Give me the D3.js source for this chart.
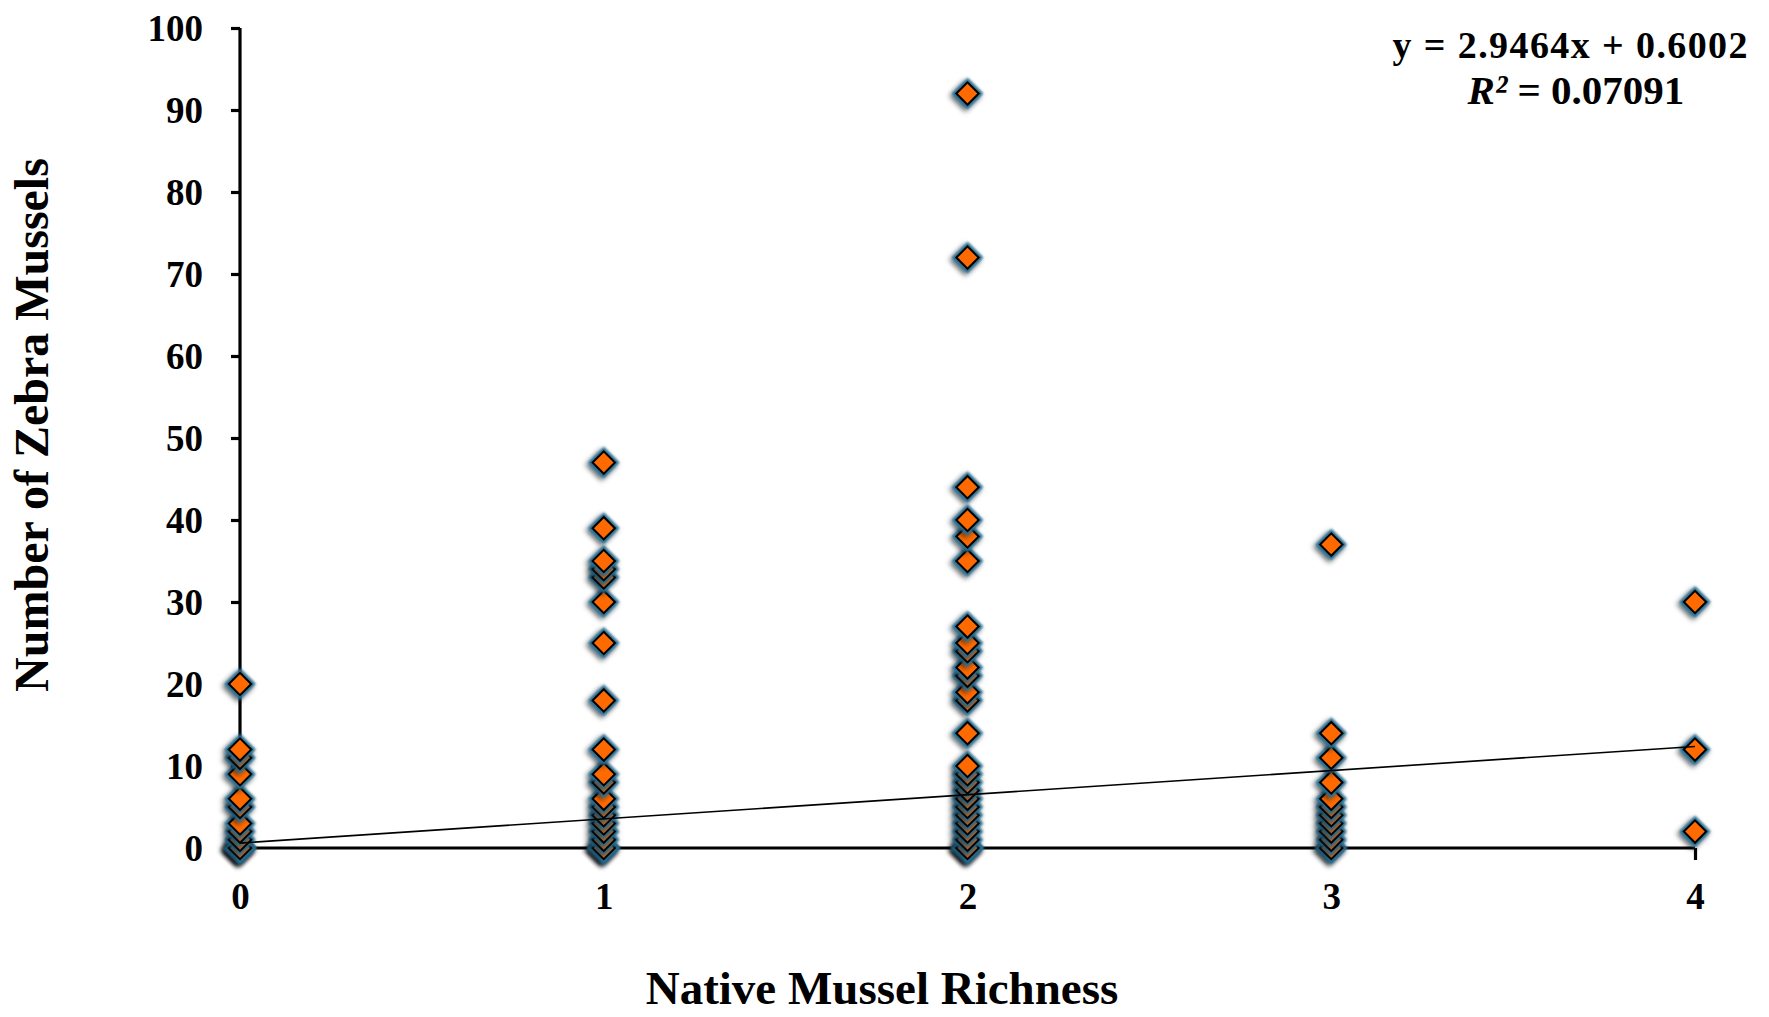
<!DOCTYPE html>
<html><head><meta charset="utf-8">
<script src="https://cdn.jsdelivr.net/npm/d3@7"></script>
<style>body{margin:0;background:#fff}svg{display:block}</style>
</head><body>
<svg id="chart" width="1769" height="1017"></svg>
<script>
// ---- data ----
const xTicks = [0, 1, 2, 3, 4];
const yTicks = [0, 10, 20, 30, 40, 50, 60, 70, 80, 90, 100];
const zebraAt0 = [0, 0, 0, 0, 0, 1, 2, 3, 5, 6, 9, 11, 12, 20];
const zebraAt1 = [0, 0, 0, 0, 1, 2, 3, 4, 5, 6, 8, 9, 12, 18, 25, 30, 33, 34, 35, 39, 47];
const zebraAt2 = [0, 0, 0, 0, 1, 2, 3, 4, 5, 6, 7, 8, 9, 10, 14, 18, 19, 21, 22, 24, 25, 27, 35, 38, 40, 44, 72, 92];
const zebraAt3 = [0, 0, 1, 2, 3, 4, 5, 6, 8, 11, 14, 37];
const zebraAt4 = [2, 12, 30];
const trendSlope = 2.9464;
const trendIntercept = 0.6002;
const equationText = "y = 2.9464x + 0.6002";
const r2Value = "0.07091";
const xTitle = "Native Mussel Richness";
const yTitle = "Number of Zebra Mussels";

const series = [zebraAt0, zebraAt1, zebraAt2, zebraAt3, zebraAt4];
const points = [];
series.forEach((vals, i) => vals.forEach(v => points.push({x: xTicks[i], y: v})));
points.sort((a, b) => a.y - b.y);

// ---- layout ----
const svg = d3.select("#chart");
const font = "'Liberation Serif', 'Times New Roman', serif";
const x = d3.scaleLinear().domain([0, 4]).range([240, 1695]);
const y = d3.scaleLinear().domain([0, 100]).range([848, 28]);

const defs = svg.append("defs");
const f = defs.append("filter").attr("id", "glow").attr("x", "-60%").attr("y", "-60%").attr("width", "220%").attr("height", "240%");
f.append("feGaussianBlur").attr("in", "SourceGraphic").attr("stdDeviation", 1.3).attr("result", "b");
f.append("feDropShadow").attr("in", "b").attr("dx", 0).attr("dy", 3).attr("stdDeviation", 2.5).attr("flood-color", "#000").attr("flood-opacity", 0.7);

// axes
const yAxis = d3.axisLeft(y).tickValues(yTicks).tickSize(9).tickPadding(28).tickFormat(d3.format("d"));
const gy = svg.append("g").attr("transform", `translate(${x(0)},0)`).call(yAxis);
const xAxis = d3.axisBottom(x).tickValues(xTicks).tickSize(12).tickPadding(30).tickFormat(d3.format("d"));
const gx = svg.append("g").attr("transform", `translate(0,${y(0)})`).call(xAxis);
[gx, gy].forEach(g => {
  g.select(".domain").attr("stroke", "#000").attr("stroke-width", 3.2);
  g.selectAll(".tick line").attr("stroke", "#000").attr("stroke-width", 3.2);
  g.selectAll(".tick text").attr("font-family", font).attr("font-weight", "bold").attr("font-size", 37).attr("fill", "#000");
});
gx.select(".domain").attr("d", `M${x(0)},0H${x(4)}`);
gy.select(".domain").attr("d", `M0,${y(0)}V${y(100)}`);
gy.selectAll(".tick text").attr("dy", "0.34em");
gx.selectAll(".tick text").attr("dy", "0.5em");

// markers
const diamond = d3.symbol().type(d3.symbolSquare).size(250)();
const m = svg.append("g").selectAll("g").data(points).join("g")
  .attr("transform", d => `translate(${x(d.x)},${y(d.y)}) rotate(45)`);
m.append("path").attr("d", diamond).attr("fill", "#2b6f92").attr("stroke", "#2b6f92").attr("stroke-width", 6.5).attr("filter", "url(#glow)");
m.append("path").attr("d", diamond).attr("fill", "#ff6a00").attr("stroke", "#000").attr("stroke-width", 2);

// trendline
svg.append("line")
  .attr("x1", x(0)).attr("y1", y(trendIntercept))
  .attr("x2", x(4)).attr("y2", y(trendSlope * 4 + trendIntercept))
  .attr("stroke", "#000").attr("stroke-width", 1.6);

// equation
const eq = svg.append("g").attr("font-family", font).attr("font-weight", "bold").attr("fill", "#000").attr("text-anchor", "middle");
eq.append("text").attr("x", 1570).attr("y", 58).attr("font-size", 38).attr("textLength", 355).attr("lengthAdjust", "spacing").text(equationText);
const t2 = eq.append("text").attr("x", 1576).attr("y", 104).attr("font-size", 41);
t2.append("tspan").attr("font-style", "italic").text("R²");
t2.append("tspan").text(" = " + r2Value);

// titles
svg.append("text").attr("x", 882).attr("y", 1004).attr("text-anchor", "middle")
  .attr("font-family", font).attr("font-weight", "bold").attr("font-size", 47).text(xTitle);
svg.append("text").attr("transform", "translate(48,425) rotate(-90)").attr("text-anchor", "middle")
  .attr("font-family", font).attr("font-weight", "bold").attr("font-size", 48).text(yTitle);
</script>
</body></html>
